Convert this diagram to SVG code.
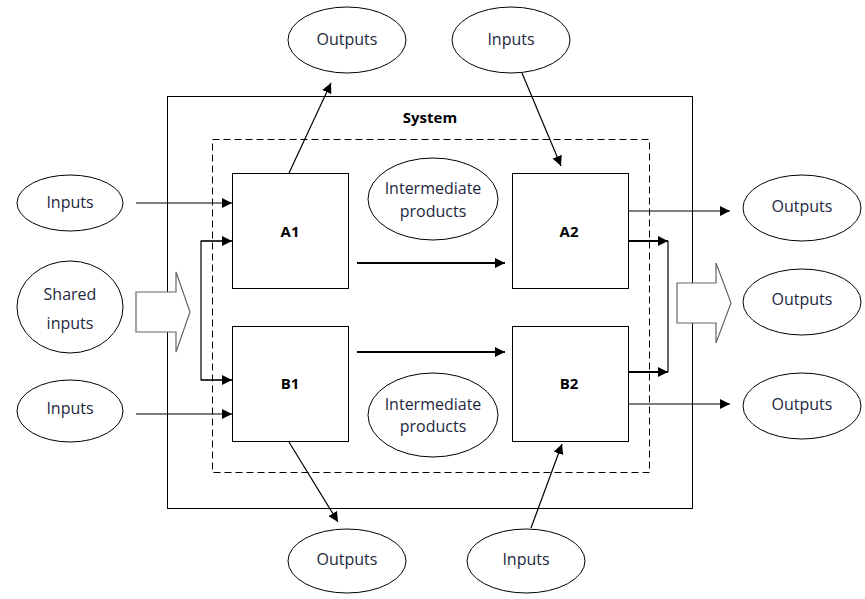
<svg xmlns="http://www.w3.org/2000/svg" width="865" height="599" viewBox="0 0 865 599">
  <defs>
    <marker id="ah" viewBox="0 0 10 10" refX="10" refY="5" markerWidth="10" markerHeight="10" markerUnits="userSpaceOnUse" orient="auto">
      <path d="M0,0 L10,5 L0,10 z" fill="#000"/>
    </marker>
    <style>
      .bg { fill: #fff; }
      .ell { fill: #fff; stroke: #000; stroke-width: 1; }
      .box { fill: #fff; stroke: #000; stroke-width: 1; }
      .dash { fill: none; stroke: #000; stroke-width: 1; stroke-dasharray: 7 4; }
      .lbl { font-family: "Open Sans", "Noto Sans", sans-serif; font-size: 16px; fill: #1d2740; text-anchor: middle; }
      .bold { font-family: "Open Sans", "Noto Sans", sans-serif; font-size: 15px; font-weight: bold; fill: #000; text-anchor: middle; }
      .ln { fill: none; stroke: #000; stroke-width: 1.2; }
      .thk { fill: none; stroke: #000; stroke-width: 2; }
      .big { fill: #fff; stroke: #666; stroke-width: 1.2; }
    </style>
  </defs>
  <rect class="bg" x="0" y="0" width="865" height="599"/>

  <!-- system boundary and internal dashed boundary -->
  <g id="system">
    <rect class="box" x="167.5" y="96.5" width="525" height="412"/>
    <rect class="dash" x="212.5" y="139.5" width="437" height="333"/>
    <text class="bold" x="430" y="123">System</text>
  </g>

  <!-- process boxes -->
  <g id="A1"><rect class="box" x="232.5" y="173.5" width="116" height="115"/><text class="bold" x="290" y="237">A1</text></g>
  <g id="B1"><rect class="box" x="232.5" y="326.5" width="116" height="115"/><text class="bold" x="290" y="389">B1</text></g>
  <g id="A2"><rect class="box" x="512.5" y="173.5" width="116" height="115"/><text class="bold" x="569" y="237">A2</text></g>
  <g id="B2"><rect class="box" x="512.5" y="326.5" width="116" height="115"/><text class="bold" x="569" y="389">B2</text></g>

  <!-- intermediate products -->
  <g id="inter-top"><ellipse class="ell" cx="433" cy="199" rx="65" ry="41"/><text class="lbl" x="433" y="194">Intermediate</text><text class="lbl" x="433" y="217">products</text></g>
  <g id="inter-bottom"><ellipse class="ell" cx="433" cy="415" rx="65" ry="42"/><text class="lbl" x="433" y="410">Intermediate</text><text class="lbl" x="433" y="432">products</text></g>

  <!-- external ellipses -->
  <g id="out-top"><ellipse class="ell" cx="347" cy="40" rx="59" ry="33"/><text class="lbl" x="347" y="45">Outputs</text></g>
  <g id="in-top"><ellipse class="ell" cx="511" cy="40" rx="59" ry="33"/><text class="lbl" x="511" y="45">Inputs</text></g>
  <g id="out-bottom"><ellipse class="ell" cx="347" cy="561" rx="59" ry="32"/><text class="lbl" x="347" y="565">Outputs</text></g>
  <g id="in-bottom"><ellipse class="ell" cx="526" cy="561" rx="59" ry="32"/><text class="lbl" x="526" y="565">Inputs</text></g>
  <g id="in-left1"><ellipse class="ell" cx="70" cy="203" rx="53" ry="28"/><text class="lbl" x="70" y="208">Inputs</text></g>
  <g id="shared"><ellipse class="ell" cx="70" cy="307" rx="53" ry="46"/><text class="lbl" x="70" y="300">Shared</text><text class="lbl" x="70" y="329">inputs</text></g>
  <g id="in-left2"><ellipse class="ell" cx="70" cy="411" rx="53" ry="31"/><text class="lbl" x="70" y="414">Inputs</text></g>
  <g id="out-right1"><ellipse class="ell" cx="802" cy="208" rx="59" ry="33"/><text class="lbl" x="802" y="212">Outputs</text></g>
  <g id="out-right2"><ellipse class="ell" cx="802" cy="302" rx="59" ry="33"/><text class="lbl" x="802" y="305">Outputs</text></g>
  <g id="out-right3"><ellipse class="ell" cx="802" cy="406" rx="59" ry="33"/><text class="lbl" x="802" y="410">Outputs</text></g>

  <!-- block arrows -->
  <g id="shared-arrow"><path class="big" d="M136,292 L176,292 L176,272 L190,312 L176,352 L176,332 L136,332 z"/></g>
  <g id="out-arrow"><path class="big" d="M677,283 L716,283 L716,263 L731,303 L716,343 L716,323 L677,323 z"/></g>

  <!-- connectors -->
  <g id="connectors">
    <line class="ln" x1="136" y1="203" x2="232" y2="203" marker-end="url(#ah)"/>
    <line class="ln" x1="136" y1="414" x2="232" y2="414" marker-end="url(#ah)"/>
    <polyline class="ln" points="232,241 201,241 201,380 232,380" fill="none"/>
    <line class="ln" x1="201" y1="241" x2="232" y2="241" marker-end="url(#ah)"/>
    <line class="ln" x1="201" y1="380" x2="232" y2="380" marker-end="url(#ah)"/>

    <line class="thk" x1="357" y1="263" x2="505" y2="263" marker-end="url(#ah)"/>
    <line class="thk" x1="357" y1="352" x2="505" y2="352" marker-end="url(#ah)"/>

    <line class="ln" x1="289" y1="173" x2="331" y2="83" marker-end="url(#ah)"/>
    <line class="ln" x1="522" y1="73" x2="561" y2="166" marker-end="url(#ah)"/>
    <line class="ln" x1="289" y1="442" x2="338" y2="522" marker-end="url(#ah)"/>
    <line class="ln" x1="531" y1="528" x2="562" y2="444" marker-end="url(#ah)"/>

    <line class="ln" x1="628" y1="211" x2="730" y2="211" marker-end="url(#ah)"/>
    <line class="ln" x1="628" y1="404" x2="730" y2="404" marker-end="url(#ah)"/>
    <line class="thk" x1="628" y1="241" x2="668" y2="241" marker-end="url(#ah)"/>
    <line class="thk" x1="628" y1="372" x2="668" y2="372" marker-end="url(#ah)"/>
    <line class="ln" x1="668" y1="241" x2="668" y2="372"/>
  </g>
</svg>
